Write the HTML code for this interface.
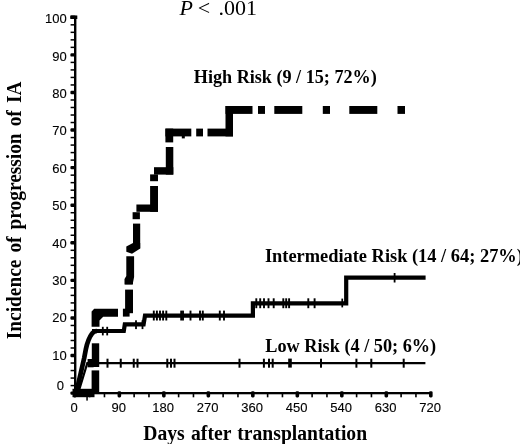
<!DOCTYPE html>
<html><head><meta charset="utf-8"><title>Incidence of progression of IA</title>
<style>
html,body{margin:0;padding:0;background:#fff;}
body{width:520px;height:444px;overflow:hidden;position:relative;}
svg{position:absolute;left:0;top:0;display:block;}
.t{font-family:"Liberation Sans",Arial,sans-serif;font-size:13px;fill:#000;stroke:#000;stroke-width:0.12px;}
.b{font-family:"Liberation Serif","Times New Roman",serif;font-weight:bold;fill:#000;}
.p{font-family:"Liberation Serif","Times New Roman",serif;fill:#000;}
</style></head><body>
<svg width="520" height="444" viewBox="0 0 520 444">
<rect width="520" height="444" fill="#fff"/>
<rect x="74.0" y="15.8" width="2.4" height="378.5" fill="#000"/>
<rect x="73.8" y="392.0" width="358.0" height="2.3" fill="#000"/>
<rect x="70.4" y="391.40" width="4.8" height="3.4" rx="1.2" fill="#000"/>
<rect x="70.6" y="384.83" width="3.8" height="1.5" fill="#000"/>
<rect x="70.6" y="377.32" width="3.8" height="1.5" fill="#000"/>
<rect x="70.6" y="369.80" width="3.8" height="1.5" fill="#000"/>
<rect x="70.6" y="362.29" width="3.8" height="1.5" fill="#000"/>
<rect x="70.4" y="353.82" width="4.8" height="3.4" rx="1.2" fill="#000"/>
<rect x="70.6" y="347.25" width="3.8" height="1.5" fill="#000"/>
<rect x="70.6" y="339.74" width="3.8" height="1.5" fill="#000"/>
<rect x="70.6" y="332.22" width="3.8" height="1.5" fill="#000"/>
<rect x="70.6" y="324.71" width="3.8" height="1.5" fill="#000"/>
<rect x="70.4" y="316.24" width="4.8" height="3.4" rx="1.2" fill="#000"/>
<rect x="70.6" y="309.67" width="3.8" height="1.5" fill="#000"/>
<rect x="70.6" y="302.16" width="3.8" height="1.5" fill="#000"/>
<rect x="70.6" y="294.64" width="3.8" height="1.5" fill="#000"/>
<rect x="70.6" y="287.13" width="3.8" height="1.5" fill="#000"/>
<rect x="70.4" y="278.66" width="4.8" height="3.4" rx="1.2" fill="#000"/>
<rect x="70.6" y="272.09" width="3.8" height="1.5" fill="#000"/>
<rect x="70.6" y="264.58" width="3.8" height="1.5" fill="#000"/>
<rect x="70.6" y="257.06" width="3.8" height="1.5" fill="#000"/>
<rect x="70.6" y="249.55" width="3.8" height="1.5" fill="#000"/>
<rect x="70.4" y="241.08" width="4.8" height="3.4" rx="1.2" fill="#000"/>
<rect x="70.6" y="234.51" width="3.8" height="1.5" fill="#000"/>
<rect x="70.6" y="227.00" width="3.8" height="1.5" fill="#000"/>
<rect x="70.6" y="219.48" width="3.8" height="1.5" fill="#000"/>
<rect x="70.6" y="211.97" width="3.8" height="1.5" fill="#000"/>
<rect x="70.4" y="203.50" width="4.8" height="3.4" rx="1.2" fill="#000"/>
<rect x="70.6" y="196.93" width="3.8" height="1.5" fill="#000"/>
<rect x="70.6" y="189.42" width="3.8" height="1.5" fill="#000"/>
<rect x="70.6" y="181.90" width="3.8" height="1.5" fill="#000"/>
<rect x="70.6" y="174.39" width="3.8" height="1.5" fill="#000"/>
<rect x="70.4" y="165.92" width="4.8" height="3.4" rx="1.2" fill="#000"/>
<rect x="70.6" y="159.35" width="3.8" height="1.5" fill="#000"/>
<rect x="70.6" y="151.84" width="3.8" height="1.5" fill="#000"/>
<rect x="70.6" y="144.32" width="3.8" height="1.5" fill="#000"/>
<rect x="70.6" y="136.81" width="3.8" height="1.5" fill="#000"/>
<rect x="70.4" y="128.34" width="4.8" height="3.4" rx="1.2" fill="#000"/>
<rect x="70.6" y="121.77" width="3.8" height="1.5" fill="#000"/>
<rect x="70.6" y="114.26" width="3.8" height="1.5" fill="#000"/>
<rect x="70.6" y="106.74" width="3.8" height="1.5" fill="#000"/>
<rect x="70.6" y="99.23" width="3.8" height="1.5" fill="#000"/>
<rect x="70.4" y="90.76" width="4.8" height="3.4" rx="1.2" fill="#000"/>
<rect x="70.6" y="84.19" width="3.8" height="1.5" fill="#000"/>
<rect x="70.6" y="76.68" width="3.8" height="1.5" fill="#000"/>
<rect x="70.6" y="69.16" width="3.8" height="1.5" fill="#000"/>
<rect x="70.6" y="61.65" width="3.8" height="1.5" fill="#000"/>
<rect x="70.4" y="53.18" width="4.8" height="3.4" rx="1.2" fill="#000"/>
<rect x="70.6" y="46.61" width="3.8" height="1.5" fill="#000"/>
<rect x="70.6" y="39.10" width="3.8" height="1.5" fill="#000"/>
<rect x="70.6" y="31.58" width="3.8" height="1.5" fill="#000"/>
<rect x="70.6" y="24.07" width="3.8" height="1.5" fill="#000"/>
<rect x="70.4" y="15.60" width="4.8" height="3.4" rx="1.2" fill="#000"/>
<rect x="73.05" y="391.2" width="3.6" height="6.2" rx="1.3" fill="#000"/>
<rect x="88.83" y="393" width="1.6" height="4.3" fill="#000"/>
<rect x="103.66" y="393" width="1.6" height="4.3" fill="#000"/>
<rect x="117.55" y="391.2" width="3.6" height="6.2" rx="1.3" fill="#000"/>
<rect x="133.33" y="393" width="1.6" height="4.3" fill="#000"/>
<rect x="148.16" y="393" width="1.6" height="4.3" fill="#000"/>
<rect x="162.04" y="391.2" width="3.6" height="6.2" rx="1.3" fill="#000"/>
<rect x="177.82" y="393" width="1.6" height="4.3" fill="#000"/>
<rect x="192.66" y="393" width="1.6" height="4.3" fill="#000"/>
<rect x="206.54" y="391.2" width="3.6" height="6.2" rx="1.3" fill="#000"/>
<rect x="222.32" y="393" width="1.6" height="4.3" fill="#000"/>
<rect x="237.15" y="393" width="1.6" height="4.3" fill="#000"/>
<rect x="251.03" y="391.2" width="3.6" height="6.2" rx="1.3" fill="#000"/>
<rect x="266.82" y="393" width="1.6" height="4.3" fill="#000"/>
<rect x="281.65" y="393" width="1.6" height="4.3" fill="#000"/>
<rect x="295.53" y="391.2" width="3.6" height="6.2" rx="1.3" fill="#000"/>
<rect x="311.31" y="393" width="1.6" height="4.3" fill="#000"/>
<rect x="326.14" y="393" width="1.6" height="4.3" fill="#000"/>
<rect x="340.03" y="391.2" width="3.6" height="6.2" rx="1.3" fill="#000"/>
<rect x="355.81" y="393" width="1.6" height="4.3" fill="#000"/>
<rect x="370.64" y="393" width="1.6" height="4.3" fill="#000"/>
<rect x="384.52" y="391.2" width="3.6" height="6.2" rx="1.3" fill="#000"/>
<rect x="400.30" y="393" width="1.6" height="4.3" fill="#000"/>
<rect x="415.14" y="393" width="1.6" height="4.3" fill="#000"/>
<rect x="429.02" y="391.2" width="3.6" height="6.2" rx="1.3" fill="#000"/>
<text x="64.1" y="389.9" text-anchor="end" class="t">0</text>
<text x="66.8" y="359.5" text-anchor="end" class="t">10</text>
<text x="66.8" y="322.2" text-anchor="end" class="t">20</text>
<text x="66.8" y="284.8" text-anchor="end" class="t">30</text>
<text x="66.8" y="247.5" text-anchor="end" class="t">40</text>
<text x="66.8" y="210.1" text-anchor="end" class="t">50</text>
<text x="66.8" y="172.7" text-anchor="end" class="t">60</text>
<text x="66.8" y="135.4" text-anchor="end" class="t">70</text>
<text x="66.8" y="98.0" text-anchor="end" class="t">80</text>
<text x="66.8" y="60.7" text-anchor="end" class="t">90</text>
<text x="66.8" y="23.3" text-anchor="end" class="t">100</text>
<text x="74.2" y="411.7" text-anchor="middle" class="t">0</text>
<text x="118.7" y="411.7" text-anchor="middle" class="t">90</text>
<text x="163.2" y="411.7" text-anchor="middle" class="t">180</text>
<text x="207.7" y="411.7" text-anchor="middle" class="t">270</text>
<text x="252.2" y="411.7" text-anchor="middle" class="t">360</text>
<text x="296.7" y="411.7" text-anchor="middle" class="t">450</text>
<text x="341.2" y="411.7" text-anchor="middle" class="t">540</text>
<text x="385.7" y="411.7" text-anchor="middle" class="t">630</text>
<text x="430.2" y="411.7" text-anchor="middle" class="t">720</text>
<path d="M78.4,392.5 L87.3,363.2 L425.4,363.2" fill="none" stroke="#000" stroke-width="2.2"/>
<rect x="106.50" y="358.7" width="2" height="9" fill="#000"/>
<rect x="119.75" y="358.7" width="2" height="9" fill="#000"/>
<rect x="132.75" y="358.7" width="2" height="9" fill="#000"/>
<rect x="136.50" y="358.7" width="2" height="9" fill="#000"/>
<rect x="166.30" y="358.7" width="2" height="9" fill="#000"/>
<rect x="170.00" y="358.7" width="2" height="9" fill="#000"/>
<rect x="173.50" y="358.7" width="2" height="9" fill="#000"/>
<rect x="238.50" y="358.7" width="2" height="9" fill="#000"/>
<rect x="262.90" y="358.7" width="2" height="9" fill="#000"/>
<rect x="268.00" y="358.7" width="2" height="9" fill="#000"/>
<rect x="271.70" y="358.7" width="2" height="9" fill="#000"/>
<rect x="320.00" y="358.7" width="2" height="9" fill="#000"/>
<rect x="355.40" y="358.7" width="2" height="9" fill="#000"/>
<rect x="370.30" y="358.7" width="2" height="9" fill="#000"/>
<rect x="402.70" y="358.7" width="2" height="9" fill="#000"/>
<rect x="288.2" y="358.6" width="3.6" height="9" fill="#000"/>
<rect x="87.6" y="359" width="6" height="8.3" fill="#000"/>
<path d="M76.3,392.5 L84.2,358 L85.9,349 Q88,339 92,333.6 Q93.6,331.2 97,331" fill="none" stroke="#000" stroke-width="4.7"/>
<path d="M92,331 L123.8,331 L124.8,324.4 L143.6,324.4 L145,315.6 L252.9,315.6 L252.9,303.4 L346.2,303.4 L346.2,277.6 L425.6,277.6" fill="none" stroke="#000" stroke-width="4.2" stroke-linejoin="miter"/>
<rect x="101.90" y="326.8" width="1.8" height="8.6" fill="#000"/>
<rect x="106.30" y="326.8" width="1.8" height="8.6" fill="#000"/>
<rect x="135.10" y="320.3" width="1.8" height="8.8" fill="#000"/>
<rect x="141.60" y="320.3" width="1.8" height="8.8" fill="#000"/>
<rect x="152.85" y="310.6" width="1.9" height="9.9" fill="#000"/>
<rect x="155.95" y="310.6" width="1.9" height="9.9" fill="#000"/>
<rect x="159.05" y="310.6" width="1.9" height="9.9" fill="#000"/>
<rect x="162.15" y="310.6" width="1.9" height="9.9" fill="#000"/>
<rect x="165.35" y="310.6" width="1.9" height="9.9" fill="#000"/>
<rect x="180.25" y="310.6" width="1.9" height="9.9" fill="#000"/>
<rect x="182.05" y="310.6" width="1.9" height="9.9" fill="#000"/>
<rect x="189.55" y="310.6" width="1.9" height="9.9" fill="#000"/>
<rect x="199.05" y="310.6" width="1.9" height="9.9" fill="#000"/>
<rect x="201.85" y="310.6" width="1.9" height="9.9" fill="#000"/>
<rect x="218.85" y="310.6" width="1.9" height="9.9" fill="#000"/>
<rect x="223.05" y="310.6" width="1.9" height="9.9" fill="#000"/>
<rect x="255.35" y="298.3" width="1.9" height="9.9" fill="#000"/>
<rect x="259.25" y="298.3" width="1.9" height="9.9" fill="#000"/>
<rect x="263.05" y="298.3" width="1.9" height="9.9" fill="#000"/>
<rect x="267.55" y="298.3" width="1.9" height="9.9" fill="#000"/>
<rect x="272.75" y="298.3" width="1.9" height="9.9" fill="#000"/>
<rect x="282.35" y="298.3" width="1.9" height="9.9" fill="#000"/>
<rect x="285.25" y="298.3" width="1.9" height="9.9" fill="#000"/>
<rect x="288.15" y="298.3" width="1.9" height="9.9" fill="#000"/>
<rect x="307.35" y="298.3" width="1.9" height="9.9" fill="#000"/>
<rect x="313.65" y="298.3" width="1.9" height="9.9" fill="#000"/>
<rect x="341.4" y="298.6" width="1.7" height="8.8" fill="#000"/>
<rect x="393.7" y="273" width="1.8" height="9.5" fill="#000"/>
<rect x="72.5" y="388.8" width="22.00" height="8.40" fill="#000"/>
<rect x="86.3" y="397" width="1.50" height="3.60" fill="#000"/>
<rect x="70.4" y="15.5" width="6.90" height="3.50" fill="#000"/>
<rect x="91.6" y="370.4" width="7.60" height="23.40" fill="#000"/>
<rect x="91.8" y="343.3" width="7.40" height="23.70" fill="#000"/>
<rect x="125.1" y="280" width="7.90" height="4.30" fill="#000"/>
<rect x="125.1" y="289.6" width="7.90" height="23.60" fill="#000"/>
<rect x="122.9" y="308.7" width="6.70" height="7.90" fill="#000"/>
<rect x="132.6" y="212.2" width="7.30" height="7.00" fill="#000"/>
<rect x="133" y="223.6" width="7.20" height="24.80" fill="#000"/>
<rect x="136.4" y="204.5" width="21.60" height="7.30" fill="#000"/>
<rect x="150.1" y="186" width="7.90" height="25.80" fill="#000"/>
<rect x="150.1" y="174.4" width="7.90" height="6.80" fill="#000"/>
<rect x="154" y="167.2" width="19.30" height="7.40" fill="#000"/>
<rect x="165.8" y="147" width="7.50" height="27.60" fill="#000"/>
<rect x="165.4" y="128.6" width="7.80" height="13.80" fill="#000"/>
<rect x="165.4" y="128.6" width="25.90" height="7.80" fill="#000"/>
<rect x="181.8" y="136" width="3.00" height="2.40" fill="#000"/>
<rect x="196.2" y="128.6" width="6.80" height="7.80" fill="#000"/>
<rect x="207.5" y="128.6" width="25.50" height="7.80" fill="#000"/>
<rect x="225.5" y="106" width="7.50" height="30.40" fill="#000"/>
<rect x="225.5" y="106" width="27.00" height="7.90" fill="#000"/>
<rect x="258" y="106" width="7.00" height="7.90" fill="#000"/>
<rect x="274.3" y="106" width="28.00" height="7.90" fill="#000"/>
<rect x="322.8" y="106" width="7.20" height="7.90" fill="#000"/>
<rect x="349.3" y="106" width="28.00" height="7.90" fill="#000"/>
<rect x="397.5" y="106" width="7.50" height="7.90" fill="#000"/>
<polygon points="91.6,311.4 94.2,308.8 118,308.8 118,316.8 103.2,316.8 99.5,320.4 99.5,326.8 91.6,326.8" fill="#000"/>
<polygon points="126.3,246.4 133,243 140.2,243 140.2,248.6 132,253.8 126.3,251.8" fill="#000"/>
<polygon points="126.3,256.3 134.1,256.3 134.1,277 132.6,284.5 124.5,284.5 124.5,279 126.3,276" fill="#000"/>
<text y="15" class="p" font-size="22"><tspan x="179.5" font-style="italic">P</tspan><tspan x="197.8">&lt;</tspan><tspan x="218.4">.001</tspan></text>
<text x="193.8" y="83.4" class="b" font-size="18.15">High Risk (9 / 15; 72%)</text>
<text x="264.9" y="262" class="b" font-size="18.4">Intermediate Risk (14 / 64; 27%)</text>
<text x="265.3" y="352.3" class="b" font-size="18.25">Low Risk (4 / 50; 6%)</text>
<text transform="translate(143.3,439.9) scale(0.982,1)" word-spacing="1.4" class="b" font-size="20">Days after transplantation</text>
<text transform="translate(21,339.2) rotate(-90) scale(0.968,1)" word-spacing="2.3" class="b" font-size="20">Incidence of progression of IA</text>
</svg>
</body></html>
